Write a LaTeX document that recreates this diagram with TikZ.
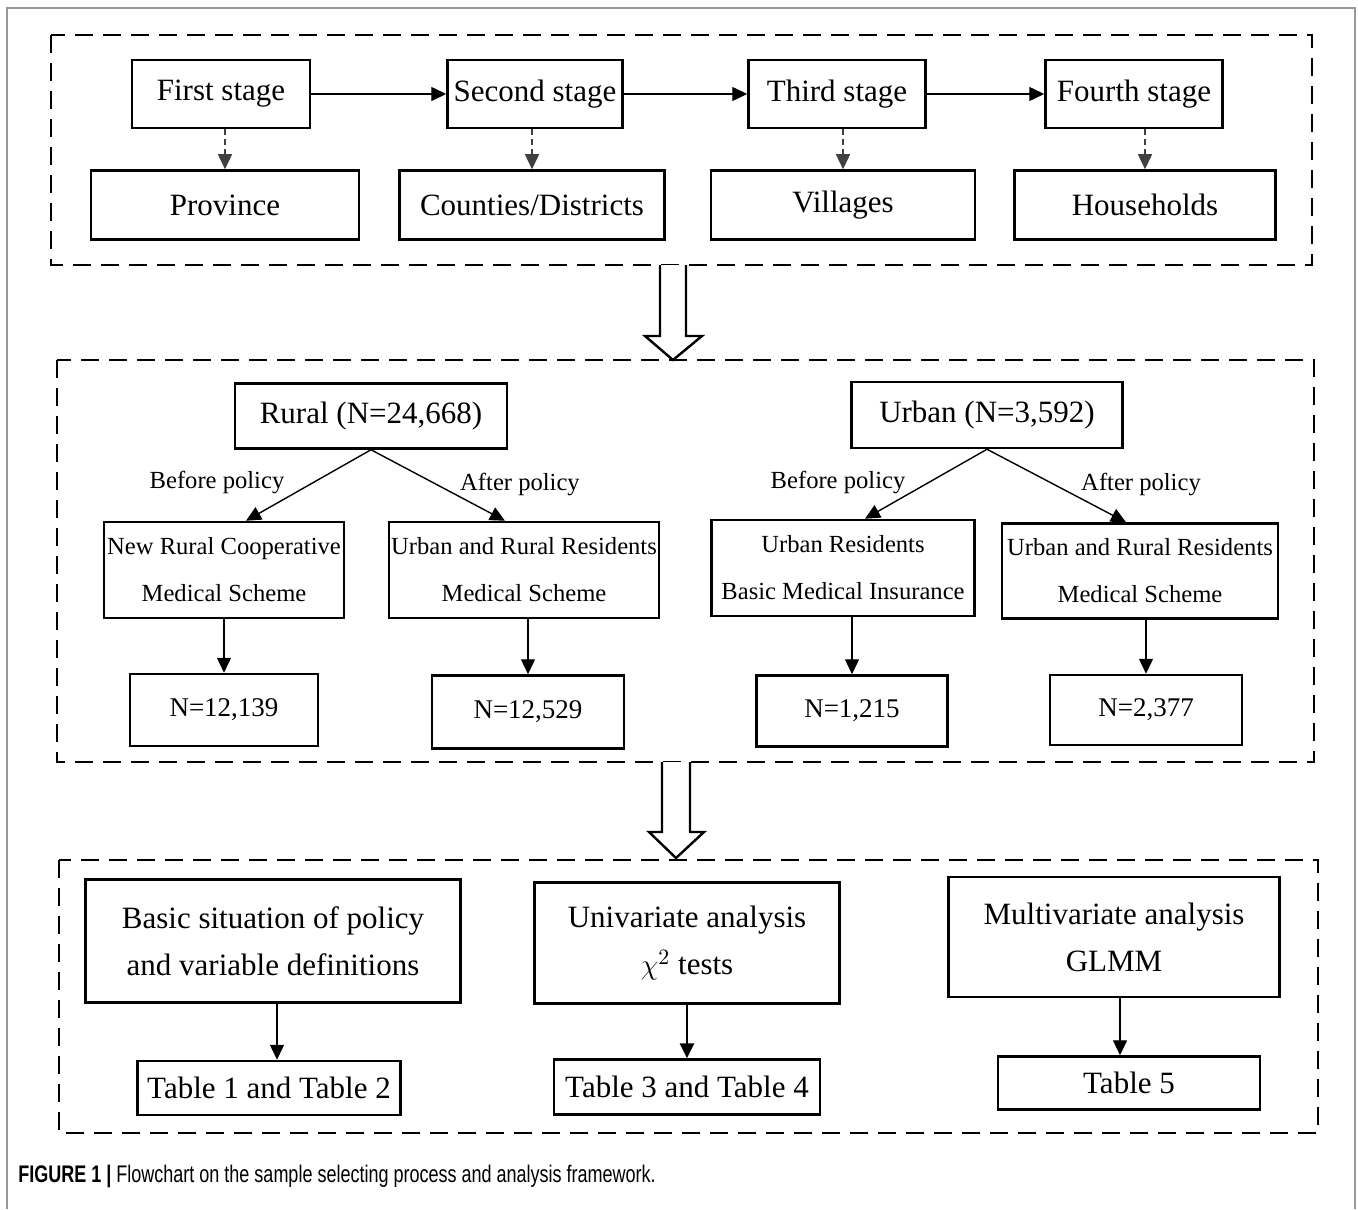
\documentclass[tikz,border=0pt]{standalone}
\usepackage{fontspec}
\setmainfont{Liberation Serif}
\newfontfamily\capfont[FakeStretch=0.75]{Liberation Sans}
\usetikzlibrary{arrows.meta}
\usetikzlibrary{positioning}

\newcommand{\fbig}{\fontsize{15.5pt}{23.5pt}\selectfont}
\newcommand{\fsmall}{\fontsize{12.3pt}{23.5pt}\selectfont}
\newcommand{\fnum}{\fontsize{13.5pt}{16pt}\selectfont}

\begin{document}
\begin{tikzpicture}[x=0.5pt, y=-0.5pt,
    box/.style={draw, line width=1.25pt, inner sep=0pt, align=center, font=\fbig},
    sz/.style 2 args={minimum width=#1*0.5pt, minimum height=#2*0.5pt},
    group/.style={draw, line width=1.4pt, dash pattern=on 9pt off 5pt},
    arr/.style={-{Triangle[length=7.5pt,width=7pt]}, line width=0.7pt},
    darr/.style={arr, densely dashed, draw=black!75},
    hollow/.style={draw, line width=1.2pt, fill=white, line join=miter},
    lbl/.style={font=\fsmall, inner sep=0pt}]
    \useasboundingbox (0,0) rectangle (1358,1209);

    % Frame
    \draw[black!40, line width=0.6pt] (7,1209) -- (7,8) -- (1355,8) -- (1355,1209);

    % Groups
    \draw[group] (51,35) rectangle (1312,265);
    \draw[group] (57,360) rectangle (1314,762);
    \draw[group] (59,860) rectangle (1318,1133);

    % Stages
    \node[box, sz={178}{68}] (first) at (221,94) {First stage};
    \node[box, sz={175}{68}] (second) at (535,94) {Second stage};
    \node[box, sz={177}{68}] (third) at (837,94) {Third stage};
    \node[box, sz={177}{68}] (fourth) at (1134,94) {Fourth stage};
    \node[box, sz={268}{69}] (province) at (225,205) {Province};
    \node[box, sz={265}{69}] (counties) at (532,205) {Counties/Districts};
    \node[box, sz={264}{69}] (villages) at (843,205) {Villages};
    \node[box, sz={261}{69}] (households) at (1145,205) {Households};

    \draw[arr] (first) -- (second);
    \draw[arr] (second) -- (third);
    \draw[arr] (third) -- (fourth);
    \draw[darr] (province.north |- first.south) -- (province.north);
    \draw[darr] (counties.north |- second.south) -- (counties.north);
    \draw[darr] (villages.north |- third.south) -- (villages.north);
    \draw[darr] (households.north |- fourth.south) -- (households.north);

    % Samples
    \node[box, sz={272}{65}] (rural) at (371,416) {Rural (N=24,668)};
    \node[box, sz={271}{66}] (urban) at (987,415) {Urban (N=3,592)};
    \node[box, sz={240}{96}, font=\fsmall] (nrcms) at (224,570) {New Rural Cooperative\\Medical Scheme};
    \node[box, sz={270}{96}, font=\fsmall] (urrmsa) at (524,570) {Urban and Rural Residents\\Medical Scheme};
    \node[box, sz={263}{96}, font=\fsmall] (urbmi) at (843,568) {Urban Residents\\Basic Medical Insurance};
    \node[box, sz={276}{95}, font=\fsmall] (urrmsb) at (1140,571) {Urban and Rural Residents\\Medical Scheme};
    \node[box, sz={188}{72}, font=\fnum] (na) at (224,710) {N=12,139};
    \node[box, sz={192}{73}, font=\fnum] (nb) at (528,712) {N=12,529};
    \node[box, sz={191}{71}, font=\fnum] (nc) at (852,711) {N=1,215};
    \node[box, sz={192}{70}, font=\fnum] (nd) at (1146,710) {N=2,377};

    \node[lbl] (rbefore) at (217,482) {Before policy};
    \node[lbl] (rafter) at (520,484) {After policy};
    \node[lbl] (ubefore) at (838,482) {Before policy};
    \node[lbl] (uafter) at (1141,484) {After policy};

    \draw[arr] (rural.south) -- ([xshift=11pt]nrcms.north);
    \draw[arr] (rural.south) -- ([xshift=-9.5pt]urrmsa.north);
    \draw[arr] (urban.south) -- ([xshift=11pt]urbmi.north);
    \draw[arr] (urban.south) -- ([xshift=-7pt]urrmsb.north);
    \draw[arr] (na.north |- nrcms.south) -- (na.north);
    \draw[arr] (nb.north |- urrmsa.south) -- (nb.north);
    \draw[arr] (nc.north |- urbmi.south) -- (nc.north);
    \draw[arr] (nd.north |- urrmsb.south) -- (nd.north);

    % Analysis
    \node[box, sz={375}{123}] (basic) at (273,941) {Basic situation of policy\\and variable definitions};
    \node[box, sz={305}{121}] (univ) at (687,943) {Univariate analysis\\$\chi^2$ tests};
    \node[box, sz={331}{120}] (multi) at (1114,937) {Multivariate analysis\\GLMM};
    \node[box, sz={263}{54}] (tab12) at (269,1088) {Table 1 and Table 2};
    \node[box, sz={266}{55}] (tab34) at (687,1087) {Table 3 and Table 4};
    \node[box, sz={262}{53}] (tab5) at (1129,1083) {Table 5};

    \draw[arr] ([xshift=2pt]basic.south) -- ([xshift=4pt]tab12.north);
    \draw[arr, line width=1.4pt] (univ) -- (tab34);
    \draw[arr] ([xshift=3pt]multi.south) -- ([xshift=-4.5pt]tab5.north);

    % Hollow arrows
    \draw[hollow] (660,265) -- (660,336) -- (645,336) -- (673,360) -- (702,336) -- (686,336) -- (686,265);
    \draw[hollow] (662,762) -- (662,832) -- (649,832) -- (676,858) -- (704,832) -- (690,832) -- (690,762);

    % Caption
    \node[anchor=west, inner sep=0pt] (caption) at (18,1176)
        {\capfont\fontsize{12pt}{14pt}\selectfont\textbf{FIGURE 1 |} Flowchart on the sample selecting process and analysis framework.};
\end{tikzpicture}
\end{document}
